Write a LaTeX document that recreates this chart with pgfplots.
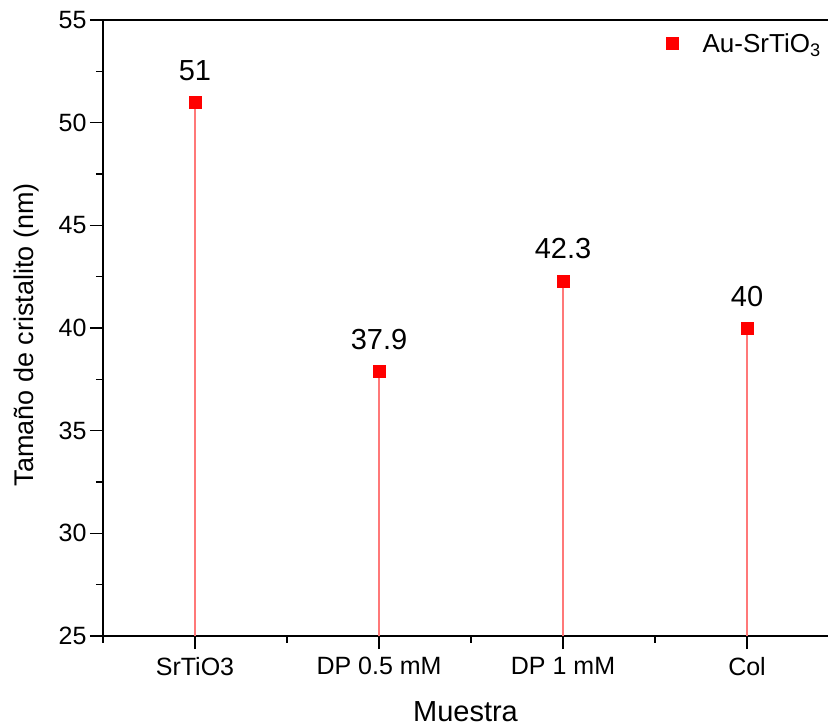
\documentclass[border=0pt]{standalone}
\usepackage{pgfplots}
\pgfplotsset{compat=1.18}
\usepackage{fontspec}
\setmainfont{Liberation Sans}
\definecolor{stem}{RGB}{255,120,120}

\begin{document}
\begin{tikzpicture}
\begin{axis}[
    scale only axis,
    width=725pt, height=616pt,
    xmin=0.5, xmax=4.44,
    ymin=25, ymax=55,
    axis x line*=bottom, axis y line*=left,
    axis line style={-, line width=1.6pt},
    xtick={1,2,3,4},
    xticklabels={SrTiO3, DP 0.5 mM, DP 1 mM, Col},
    minor xtick={0.5,1.5,2.5,3.5},
    ytick={25,30,35,40,45,50,55},
    minor ytick={27.5,32.5,37.5,42.5,47.5,52.5},
    tick align=outside,
    major tick length=13pt, minor tick length=7pt,
    every tick/.style={black, line width=1.6pt},
    tick label style={font=\fontsize{25}{30}\selectfont},
    xticklabel style={yshift=-5pt},
    /pgf/number format/assume math mode=true,
    xlabel={Muestra},
    ylabel={Tamaño de cristalito (nm)},
    xlabel style={font=\fontsize{29}{34}\selectfont, at={(axis description cs:0.5,-0.123)}, anchor=center},
    ylabel style={font=\fontsize{27}{32}\selectfont, at={(axis description cs:-0.105,0.489)}, anchor=center},
    legend style={draw=none, fill=none, at={(axis description cs:0.997,0.985)}, anchor=north east,
        font=\fontsize{26}{30}\selectfont},
    legend cell align=left,
    clip=true,
]
\coordinate (sw) at (rel axis cs:0,0);
\addplot[ycomb, draw=stem, line width=1.3pt, forget plot] coordinates {
    (1,51) (2,37.9) (3,42.3) (4,40)
};
\addplot[only marks, mark=square*, mark size=6pt, mark options={fill=red, draw=red},
    nodes near coords,
    point meta=explicit symbolic,
    every node near coord/.append style={font=\fontsize{29}{34}\selectfont, text=black, anchor=south, yshift=18pt},
] coordinates {
    (1,51) [51] (2,37.9) [37.9] (3,42.3) [42.3] (4,40) [40]
};
\addlegendentry{\hspace*{22pt}Au-SrTiO$_{\mathrm{3}}$}
\draw[line width=1.6pt] (rel axis cs:0,1) -- (rel axis cs:1,1);
\end{axis}
\pgfresetboundingbox
\path (sw) ++(-103pt,-92pt) rectangle ++(828pt,728pt);
\end{tikzpicture}
\end{document}
